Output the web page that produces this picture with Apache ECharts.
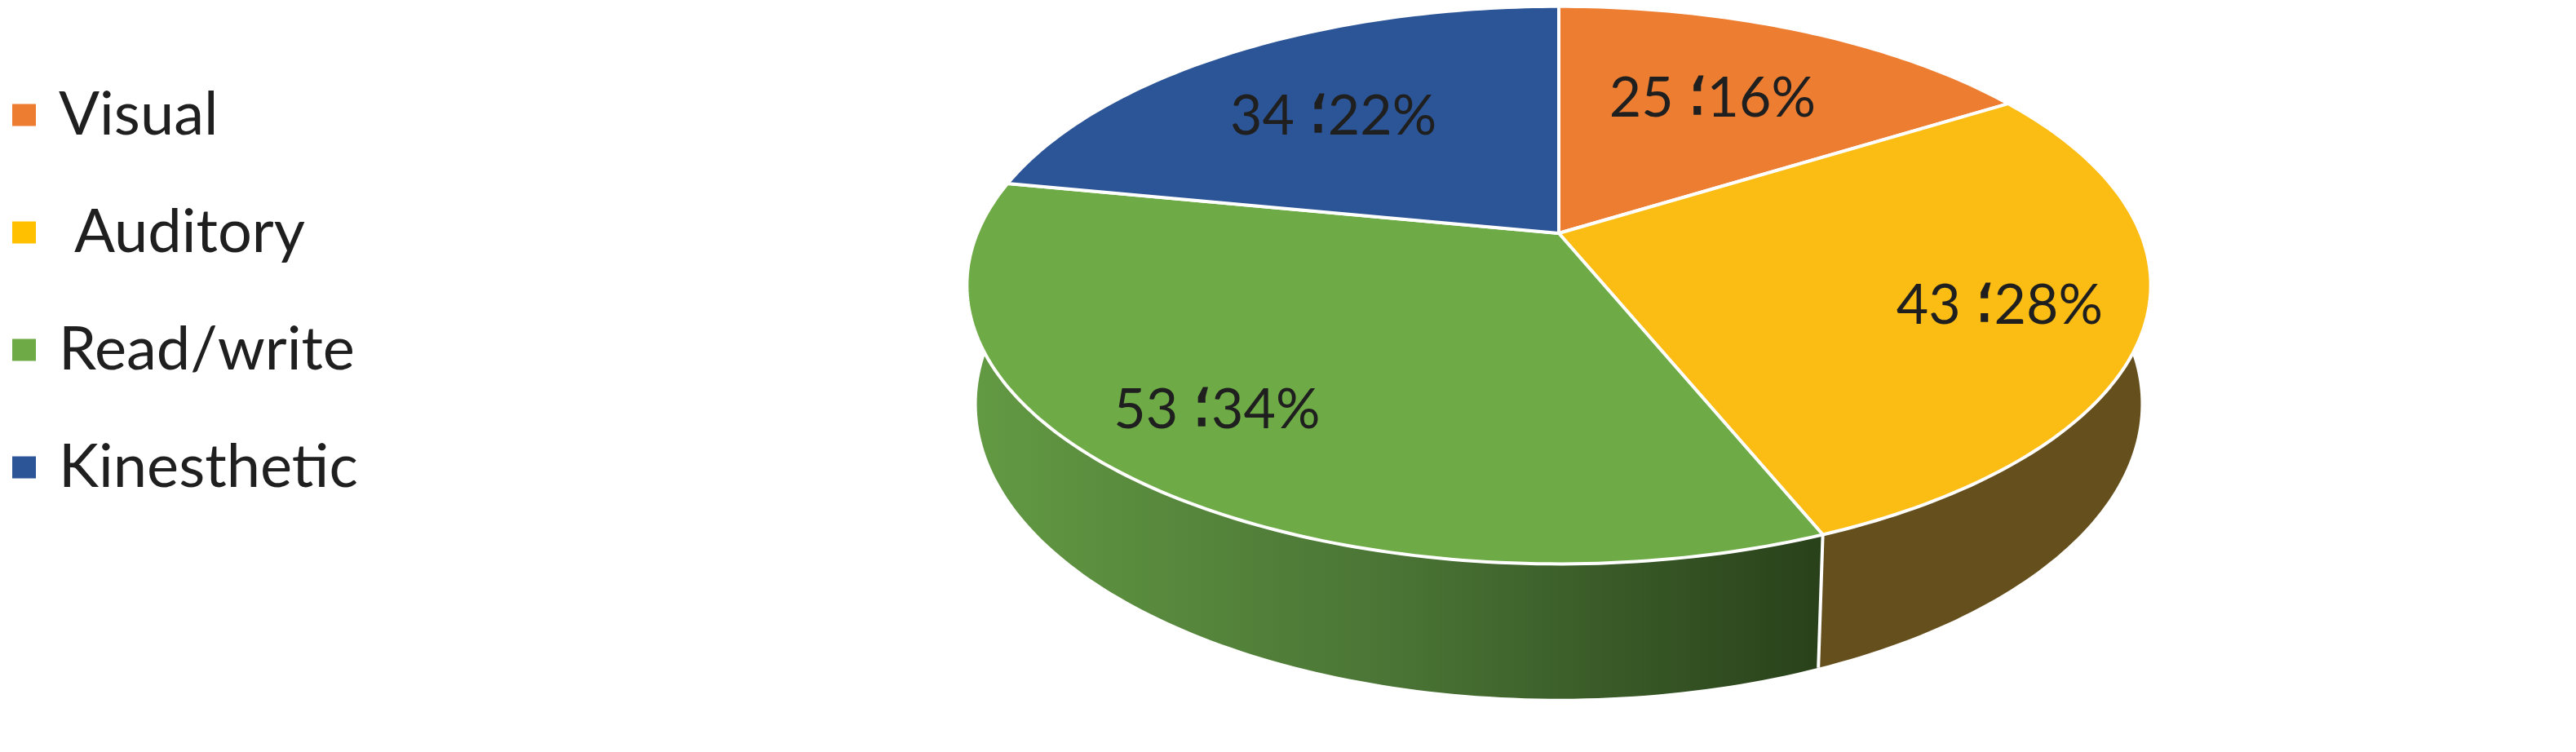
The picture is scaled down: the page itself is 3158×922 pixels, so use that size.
<!DOCTYPE html>
<html>
<head>
<meta charset="utf-8">
<style>html,body{margin:0;padding:0;background:#fff}#c{width:3158px;height:922px}</style>
<script src="https://cdn.jsdelivr.net/npm/echarts@6/dist/echarts.min.js"></script>
</head>
<body>
<div id="c"></div>
<script>
// --- data ---
const categories = ['Visual', ' Auditory', 'Read/write', 'Kinesthetic'];
const counts = [25, 43, 53, 34];
const percentLabels = ['16%', '28%', '34%', '22%'];

// --- styling and layout ---
const topColors = ['#ED7D31', '#FBBC14', '#6EAB46', '#2C5597'];
const legendColors = ['#ED7D31', '#FFC000', '#6EAB46', '#2C5597'];
const sideColors = ['#84461B', '#654F1C', null, '#19305A'];
const labelRadius = [0.624, 0.766, 0.786, 0.633];
const labelTurn = [-1.2, 1.6, 2.3, -2.3];
const upperRim = {cx: 1911, cy: 286, A: 713, B: 330, k: 0.186};
const lowerRim = {cx: 1911, cy: 428, A: 701, B: 349, k: 0.186};
const FONT = 'Lato, "DejaVu Sans", sans-serif';

const total = counts.reduce((a, b) => a + b, 0);
const starts = counts.map((_, i) => counts.slice(0, i).reduce((a, b) => a + b, 0));

function project(deg, r, rim) {
  const t = deg * Math.PI / 180;
  const u = r * Math.sin(t), v = -r * Math.cos(t);
  const d = 1 - rim.k * v;
  return [rim.cx + rim.A * u / d, rim.cy + rim.B * v / d];
}
function arc(a0, a1, rim) {
  const pts = [], n = Math.max(2, Math.ceil(Math.abs(a1 - a0)));
  for (let i = 0; i <= n; i++) pts.push(project(a0 + (a1 - a0) * i / n, 1, rim));
  return pts;
}
function seam(deg) {
  const p = project(deg, 1, upperRim), q = project(deg, 1, lowerRim);
  return {
    type: 'line', z2: 5,
    shape: {x1: p[0], y1: p[1], x2: q[0], y2: q[1]},
    style: {stroke: '#fff', lineWidth: 4}
  };
}
function renderSlice(idx) {
  return function (params, api) {
    const value = api.value(0), start = api.value(1);
    const a0 = start / total * 360, a1 = (start + value) / total * 360;
    const sideFill = sideColors[idx] || new echarts.graphic.LinearGradient(0, 0, 1, 0, [
      {offset: 0, color: '#639A43'},
      {offset: 0.5, color: '#4A7435'},
      {offset: 1, color: '#29411A'}
    ]);
    const mid = (a0 + a1) / 2 + labelTurn[idx];
    const lp = project(mid, labelRadius[idx], upperRim);
    return {
      type: 'group',
      children: [
        {
          type: 'polygon', z2: idx === 2 ? 2 : 1,
          shape: {points: arc(a0, a1, upperRim).concat(arc(a1, a0, lowerRim))},
          style: {fill: sideFill}
        },
        seam(a1),
        {
          type: 'polygon', z2: 10,
          shape: {points: [project(0, 0, upperRim)].concat(arc(a0, a1, upperRim))},
          style: {fill: topColors[idx], stroke: '#fff', lineWidth: 4, lineJoin: 'round'}
        },
        {
          type: 'text', z2: 20, x: lp[0], y: lp[1],
          style: {
            text: '{n|' + value + ' }{s|\u061B}{n|' + percentLabels[idx] + '}',
            align: 'center', verticalAlign: 'middle',
            fill: '#1F1F1F',
            rich: {
              n: {font: '400 68px ' + FONT, fill: '#1F1F1F'},
              s: {font: '400 74px "DejaVu Sans", sans-serif', fill: '#1F1F1F', stroke: '#1F1F1F', lineWidth: 1.5}
            }
          }
        }
      ]
    };
  };
}

const chart = echarts.init(document.getElementById('c'), null, {renderer: 'canvas', width: 3158, height: 922});
chart.setOption({
  animation: false,
  backgroundColor: '#fff',
  legend: {
    show: true, orient: 'vertical', left: 15, top: 101, padding: 0,
    icon: 'rect', itemWidth: 29, itemHeight: 27, itemGap: 64,
    selectedMode: false,
    data: categories,
    textStyle: {fontFamily: FONT, fontSize: 74, color: '#1F1F1F', lineHeight: 80, padding: [0, 0, 0, 23]}
  },
  series: categories.map((name, i) => ({
    type: 'custom',
    name: name,
    coordinateSystem: 'none',
    itemStyle: {color: legendColors[i]},
    renderItem: renderSlice(i),
    data: [[counts[i], starts[i]]]
  }))
});
</script>
</body>
</html>
